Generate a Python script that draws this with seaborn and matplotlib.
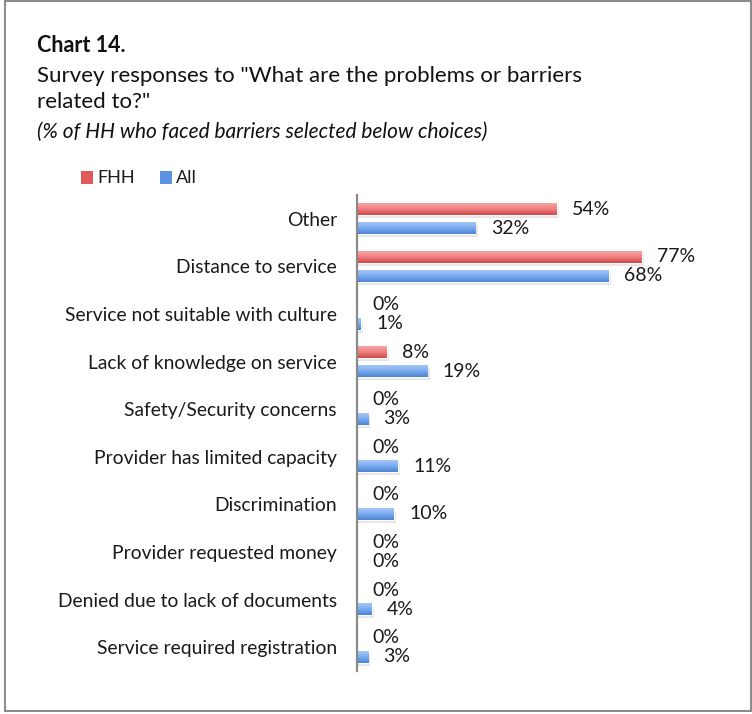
import numpy as np
import pandas as pd
import matplotlib
matplotlib.use("Agg")
import matplotlib.pyplot as plt
from matplotlib.colors import LinearSegmentedColormap
from matplotlib.patches import Rectangle
import seaborn as sns

categories = [
    "Other",
    "Distance to service",
    "Service not suitable with culture",
    "Lack of knowledge on service",
    "Safety/Security concerns",
    "Provider has limited capacity",
    "Discrimination",
    "Provider requested money",
    "Denied due to lack of documents",
    "Service required registration",
]
series_names = ["FHH", "All"]
fhh_values = [54, 77, 0, 8, 0, 0, 0, 0, 0, 0]
all_values = [32, 68, 1, 19, 3, 11, 10, 0, 4, 3]

df = pd.DataFrame({
    "category": categories * 2,
    "series": [series_names[0]] * len(categories) + [series_names[1]] * len(categories),
    "value": fhh_values + all_values,
})

sns.set_theme(style="white")
plt.rcParams["font.family"] = ["Lato", "DejaVu Sans"]

W, H = 752, 714
fig = plt.figure(figsize=(W / 100, H / 100), dpi=100)

ax_left, ax_right, ax_top, ax_bottom = 357, 727, 195, 671
ax = fig.add_axes([ax_left / W, 1 - ax_bottom / H, (ax_right - ax_left) / W, (ax_bottom - ax_top) / H])

palette = {"FHH": "#E05A5A", "All": "#5B93E0"}
grad = {
    "FHH": ["#F9A3A3", "#EE7F7F", "#D04848"],
    "All": ["#A3C8F8", "#7AAAEE", "#4A82D2"],
}

sns.barplot(data=df, y="category", x="value", hue="series", order=categories,
            hue_order=series_names, palette=palette, orient="h", width=0.8,
            gap=0.37, dodge=True, legend=False, ax=ax, saturation=1)

ax.set_xlim(0, 100)
ax.set_ylim(len(categories) - 0.5, -0.5)

# gradient fill + soft shadow on each bar
for patch in list(ax.patches):
    x0, y0 = patch.get_x(), patch.get_y()
    w, h = patch.get_width(), patch.get_height()
    if w <= 0:
        continue
    fc = patch.get_facecolor()
    key = "FHH" if fc[0] > fc[2] else "All"
    shadow = Rectangle((x0, y0 + h * 0.25), w + 0.6, h, facecolor="#000000",
                       alpha=0.10, edgecolor="none", zorder=patch.get_zorder() - 0.1)
    ax.add_patch(shadow)
    cmap = LinearSegmentedColormap.from_list(key, grad[key])
    g = np.linspace(0, 1, 64).reshape(-1, 1)
    im = ax.imshow(g, cmap=cmap, aspect="auto", extent=(x0, x0 + w, y0 + h, y0),
                   zorder=patch.get_zorder() + 0.1, interpolation="bicubic")
    im.set_clip_path(patch)
ax.set_xlim(0, 100)
ax.set_ylim(len(categories) - 0.5, -0.5)

# value labels
offsets = {"FHH": -0.2, "All": 0.2}
for i, cat in enumerate(categories):
    for name, vals in (("FHH", fhh_values), ("All", all_values)):
        v = vals[i]
        ax.annotate(f"{v}%", xy=(v, i + offsets[name]), xytext=(11, 0),
                    textcoords="offset points", ha="left", va="center",
                    fontsize=14, color="#1a1a1a")

ax.set_xlabel("")
ax.set_ylabel("")
ax.set_xticks([])
ax.tick_params(axis="y", length=0, pad=14.4, labelsize=13.9, labelcolor="#1a1a1a")
for s in ("top", "right", "bottom"):
    ax.spines[s].set_visible(False)
ax.spines["left"].set_color("#8a8a8a")
ax.spines["left"].set_linewidth(1.6)

# titles
fig.text(37 / W, 1 - 46 / H, "Chart 14.", fontsize=15.5, fontweight="bold",
         ha="left", va="center", color="#111111")
fig.text(37 / W, 1 - 76 / H, 'Survey responses to "What are the problems or barriers',
         fontsize=16, ha="left", va="center", color="#111111")
fig.text(37 / W, 1 - 102 / H, 'related to?"', fontsize=16, ha="left", va="center",
         color="#111111")
fig.text(37 / W, 1 - 132 / H, "(% of HH who faced barriers selected below choices)",
         fontsize=15, style="italic", ha="left", va="center", color="#111111")

# legend
for lx, name in ((81, "FHH"), (160, "All")):
    fig.patches.append(Rectangle((lx / W, 1 - 184 / H), 12 / W, 13 / H,
                                 transform=fig.transFigure, facecolor=palette[name],
                                 edgecolor="none"))
    fig.text((lx + 16) / W, 1 - 178 / H, name, fontsize=13, ha="left", va="center",
             color="#1a1a1a")

# outer frame
fig.patches.append(Rectangle((5 / W, 1 - 711 / H), 746 / W, 710 / H,
                             transform=fig.transFigure, facecolor="none",
                             edgecolor="#8c8c8c", linewidth=1.5))

fig.savefig("out.png", dpi=100)
